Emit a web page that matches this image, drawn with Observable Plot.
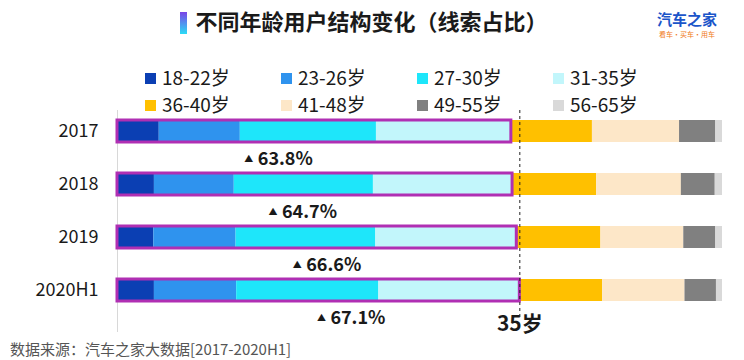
<!DOCTYPE html>
<html><head><meta charset="utf-8">
<script src="https://cdn.jsdelivr.net/npm/d3@7"></script>
<script src="https://cdn.jsdelivr.net/npm/@observablehq/plot@0.6"></script>
<style>
body{margin:0;background:#fff;font-family:"Noto Sans CJK SC","Noto Sans",sans-serif;color:#1a1a1a;}
#wrap{position:relative;width:744px;height:360px;overflow:hidden;}
#title{position:absolute;left:-8px;top:5px;width:744px;text-align:center;font-size:22px;font-weight:bold;line-height:30px;}
#title .ic{display:inline-block;width:7px;height:22px;vertical-align:-4px;margin-right:8px;background:linear-gradient(#7a44e6,#2bdcf6);}
#logo{position:absolute;left:652px;top:10px;width:70px;text-align:center;}
#logo .a{font-size:15px;font-weight:bold;color:#1b55c9;line-height:17px;height:17px;}
#logo .b{font-size:7px;color:#f07a22;line-height:9px;height:9px;margin-top:3px;}
#legend{position:absolute;left:0;top:64px;width:744px;}
.li{position:absolute;font-size:19px;line-height:26px;white-space:nowrap;}
.li i{display:inline-block;width:11px;height:11px;margin-right:6px;vertical-align:1px;}
#chart{position:absolute;left:0;top:104px;}
#cap{position:absolute;left:10px;top:340px;font-size:15px;color:#555;line-height:18px;}
</style></head>
<body><div id="wrap">
<div id="title"><span class="ic"></span>不同年龄用户结构变化（线索占比）</div>
<div id="logo"><div class="a">汽车之家</div><div class="b">看车·买车·用车</div></div>
<div id="legend"></div>
<div id="chart"></div>
<div id="cap">数据来源：汽车之家大数据[2017-2020H1]</div>
</div>
<script>
const years = ["2017", "2018", "2019", "2020H1"];
const groups = ["18-22岁", "23-26岁", "27-30岁", "31-35岁", "36-40岁", "41-48岁", "49-55岁", "56-65岁"];
const colors = ["#0b3fb3", "#2f93ee", "#1ee6fa", "#c2f6fb", "#ffc000", "#fde7c8", "#808080", "#d9d9d9"];
const v2017 = [6.9, 13.4, 22.5, 22.3, 13.4, 14.4, 6.0, 1.1];
const v2018 = [6.1, 13.2, 23.0, 23.0, 13.9, 14.0, 5.6, 1.2];
const v2019 = [6.0, 13.6, 23.1, 23.3, 13.9, 13.7, 5.3, 1.1];
const v2020 = [6.1, 13.6, 23.5, 23.3, 13.7, 13.6, 5.2, 1.0];
const under35Labels = ["63.8%", "64.7%", "66.6%", "67.1%"];
const ageMarkLabel = "35岁";

const series = [v2017, v2018, v2019, v2020];
const data = [];
years.forEach((y, i) => groups.forEach((g, j) => data.push({year: y, group: g, value: series[i][j]})));
const under = years.map((y, i) => ({year: y, share: d3.sum(series[i].slice(0, 4)), label: under35Labels[i], i}));
const x35 = under[under.length - 1].share;

// legend
const leg = document.getElementById("legend");
const colX = [145, 281, 417, 553];
groups.forEach((g, k) => {
  const el = document.createElement("div");
  el.className = "li";
  el.style.left = colX[k % 4] + "px";
  el.style.top = (k < 4 ? 0 : 27) + "px";
  el.innerHTML = `<i style="background:${colors[k]}"></i>${g}`;
  leg.appendChild(el);
});

const ff = "'Noto Sans CJK SC', 'Noto Sans', sans-serif";
const chart = Plot.plot({
  width: 744,
  height: 250,
  marginLeft: 117,
  marginRight: 22,
  marginTop: 6,
  marginBottom: 22,
  style: {fontFamily: ff, color: "#1a1a1a"},
  x: {domain: [0, 100], axis: null},
  y: {domain: years, range: [4, 209], paddingInner: 0.59, paddingOuter: 0.2, label: null},
  color: {domain: groups, range: colors},
  marks: [
    Plot.ruleX([0], {stroke: "#d8d8d8", strokeWidth: 1}),
    Plot.barX(data, {y: "year", x: "value", fill: "group"}),
    Plot.barX(under, {y: "year", x1: 0, x2: "share", fill: "none", stroke: "#b02fb3", strokeWidth: 3}),
    Plot.ruleX([x35], {stroke: "#222", strokeWidth: 1, strokeDasharray: "3,3", insetBottom: 12}),
    Plot.text([ageMarkLabel], {x: x35, frameAnchor: "bottom", dy: -2, fontSize: 21, fontWeight: "bold", fill: "#1a1a1a", fontFamily: ff}),
    Plot.text(under, {y: "year", x: d => 21.7 + 4 * d.i, text: () => "▲", dy: 28, fontSize: 9, fill: "#1a1a1a"}),
    Plot.text(under, {y: "year", x: d => 21.7 + 4 * d.i, text: "label", dy: 28, dx: 9, textAnchor: "start", fontSize: 18, fontWeight: "bold", fill: "#1a1a1a", fontFamily: ff}),
    Plot.axisY({tickSize: 0, tickPadding: 19, fontSize: 18, fontFamily: ff, fill: "#1a1a1a", label: null})
  ]
});
document.getElementById("chart").appendChild(chart);
</script>
</body></html>
